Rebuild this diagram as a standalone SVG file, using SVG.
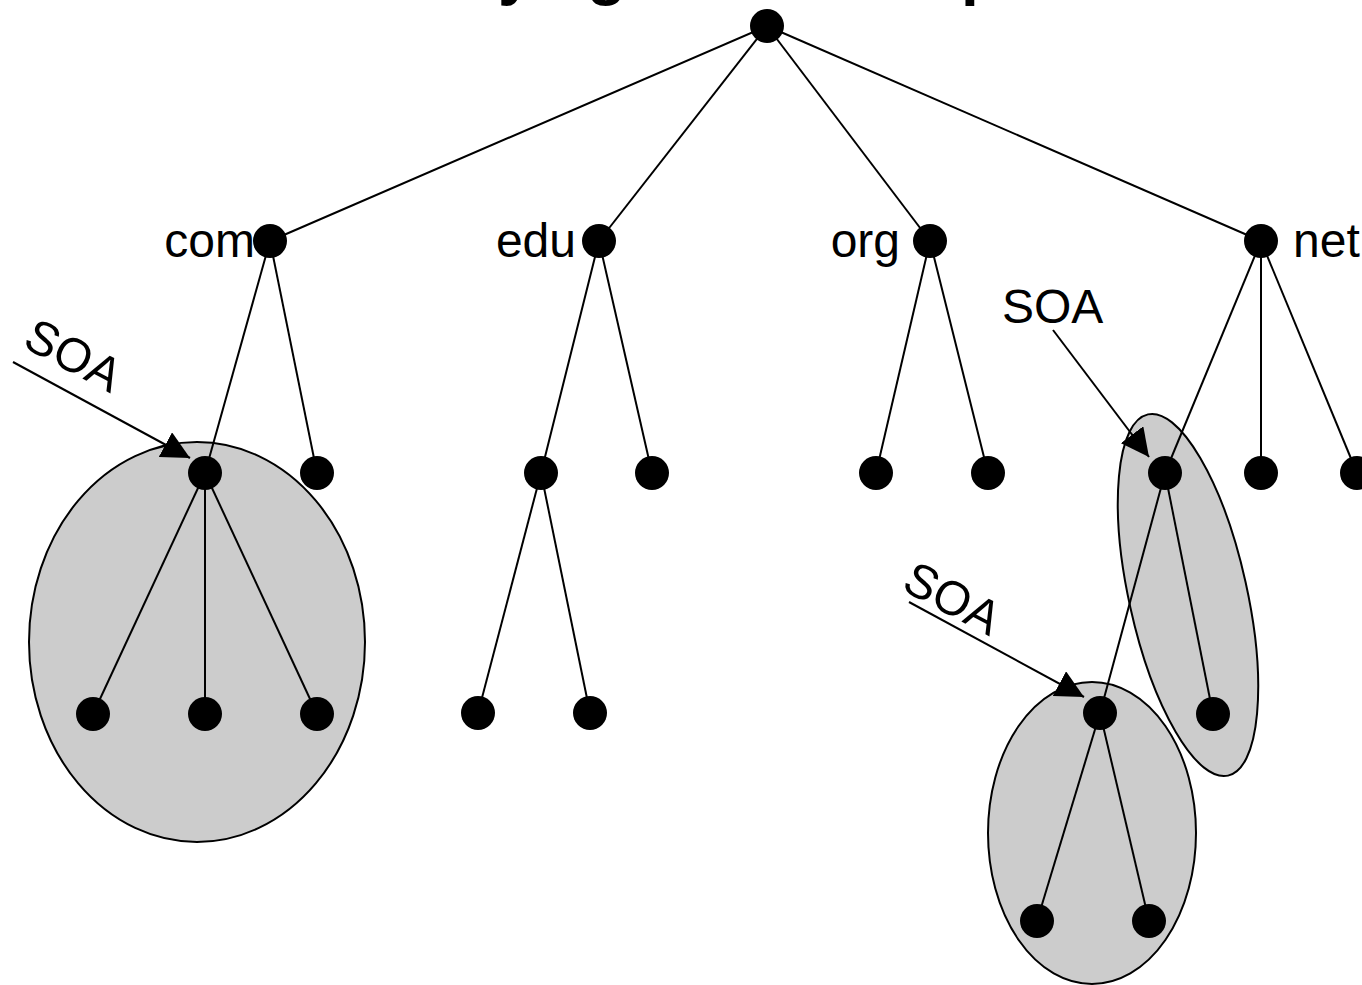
<svg xmlns="http://www.w3.org/2000/svg" width="1362" height="985" viewBox="0 0 1362 985">
<style>
.zone{fill:#cccccc;stroke:#000;stroke-width:2}
.edge{stroke:#000;stroke-width:2;fill:none}
.ptr{stroke:#000;stroke-width:2;fill:none;marker-end:url(#arr)}
.node{fill:#000}
.lbl{font-family:"Liberation Sans",Arial,sans-serif;font-size:48px;fill:#000}
.title{font-family:"Liberation Sans",Arial,sans-serif;font-size:64px;font-weight:bold;fill:#000}
</style>
<defs>
<marker id="arr" markerUnits="userSpaceOnUse" viewBox="0 0 28 28" refX="28" refY="14" markerWidth="28" markerHeight="28" orient="auto">
<path d="M0,0 L28,14 L0,28 z" fill="#000"/>
</marker>
</defs>
<rect width="1362" height="985" fill="#fff"/>
<text class="title" y="-7"><tspan x="498">y</tspan><tspan x="587">g</tspan><tspan x="961">p</tspan></text>

<g id="zones">
<ellipse id="zone-com" class="zone" cx="197" cy="642" rx="168" ry="200"/>
<ellipse id="zone-net-a" class="zone" cx="1188" cy="595" rx="59" ry="185" transform="rotate(-12.5 1188 595)"/>
<ellipse id="zone-net-b" class="zone" cx="1092" cy="833" rx="104" ry="151"/>
</g>

<g id="connectors">
<line class="edge" x1="767" y1="26" x2="270" y2="241"/>
<line class="edge" x1="767" y1="26" x2="599" y2="241"/>
<line class="edge" x1="767" y1="26" x2="930" y2="241"/>
<line class="edge" x1="767" y1="26" x2="1261" y2="241"/>
<line class="edge" x1="270" y1="241" x2="205" y2="473"/>
<line class="edge" x1="270" y1="241" x2="317" y2="473"/>
<line class="edge" x1="205" y1="473" x2="93" y2="714"/>
<line class="edge" x1="205" y1="473" x2="205" y2="714"/>
<line class="edge" x1="205" y1="473" x2="317" y2="714"/>
<line class="edge" x1="599" y1="241" x2="541" y2="473"/>
<line class="edge" x1="599" y1="241" x2="652" y2="473"/>
<line class="edge" x1="541" y1="473" x2="478" y2="713"/>
<line class="edge" x1="541" y1="473" x2="590" y2="713"/>
<line class="edge" x1="930" y1="241" x2="876" y2="473"/>
<line class="edge" x1="930" y1="241" x2="988" y2="473"/>
<line class="edge" x1="1261" y1="241" x2="1165" y2="473"/>
<line class="edge" x1="1261" y1="241" x2="1261" y2="473"/>
<line class="edge" x1="1261" y1="241" x2="1357" y2="473"/>
<line class="edge" x1="1165" y1="473" x2="1100" y2="713"/>
<line class="edge" x1="1165" y1="473" x2="1213" y2="714"/>
<line class="edge" x1="1100" y1="713" x2="1037" y2="921"/>
<line class="edge" x1="1100" y1="713" x2="1149" y2="921"/>
<line class="ptr" x1="13" y1="362" x2="190" y2="458"/>
<line class="ptr" x1="1053" y1="330" x2="1149" y2="457"/>
<line class="ptr" x1="909" y1="602" x2="1084" y2="697"/>
</g>

<g id="root"><circle class="node" cx="767" cy="26" r="17"/></g>
<g id="com"><circle class="node" cx="270" cy="241" r="17"/><text class="lbl" x="255" y="257" text-anchor="end">com</text></g>
<g id="edu"><circle class="node" cx="599" cy="241" r="17"/><text class="lbl" x="576" y="257" text-anchor="end">edu</text></g>
<g id="org"><circle class="node" cx="930" cy="241" r="17"/><text class="lbl" x="900" y="257" text-anchor="end">org</text></g>
<g id="net"><circle class="node" cx="1261" cy="241" r="17"/><text class="lbl" x="1293" y="257">net</text></g>

<g id="com-a"><circle class="node" cx="205" cy="473" r="17"/></g>
<g id="com-b"><circle class="node" cx="317" cy="473" r="17"/></g>
<g id="com-a-1"><circle class="node" cx="93" cy="714" r="17"/></g>
<g id="com-a-2"><circle class="node" cx="205" cy="714" r="17"/></g>
<g id="com-a-3"><circle class="node" cx="317" cy="714" r="17"/></g>
<g id="edu-a"><circle class="node" cx="541" cy="473" r="17"/></g>
<g id="edu-b"><circle class="node" cx="652" cy="473" r="17"/></g>
<g id="edu-a-1"><circle class="node" cx="478" cy="713" r="17"/></g>
<g id="edu-a-2"><circle class="node" cx="590" cy="713" r="17"/></g>
<g id="org-a"><circle class="node" cx="876" cy="473" r="17"/></g>
<g id="org-b"><circle class="node" cx="988" cy="473" r="17"/></g>
<g id="net-a"><circle class="node" cx="1165" cy="473" r="17"/></g>
<g id="net-b"><circle class="node" cx="1261" cy="473" r="17"/></g>
<g id="net-c"><circle class="node" cx="1357" cy="473" r="17"/></g>
<g id="net-a-1"><circle class="node" cx="1100" cy="713" r="17"/></g>
<g id="net-a-2"><circle class="node" cx="1213" cy="714" r="17"/></g>
<g id="net-a-1-1"><circle class="node" cx="1037" cy="921" r="17"/></g>
<g id="net-a-1-2"><circle class="node" cx="1149" cy="921" r="17"/></g>

<g id="soa-labels">
<text class="lbl" x="21" y="346" transform="rotate(28 21 346)">SOA</text>
<text class="lbl" x="1002" y="323">SOA</text>
<text class="lbl" x="900" y="589" transform="rotate(28 900 589)">SOA</text>
</g>
</svg>
